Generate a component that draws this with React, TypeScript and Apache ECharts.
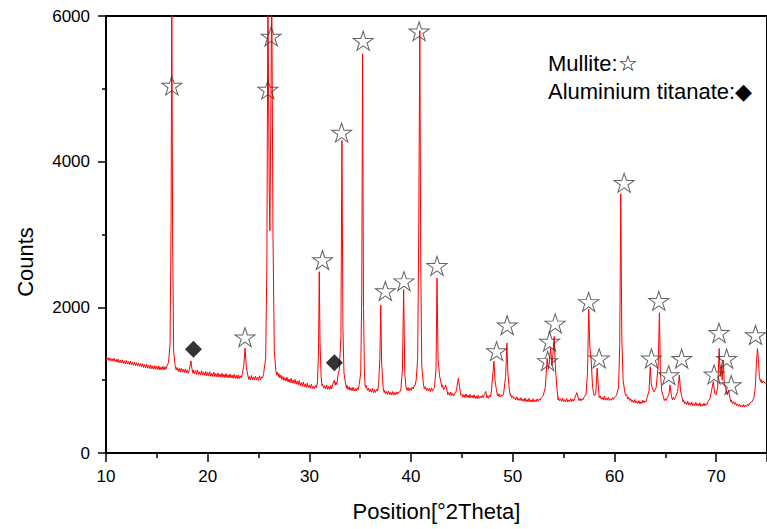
import React, { useEffect, useRef } from "react";
import * as echarts from "echarts";

// X-ray diffraction pattern: [2Theta, counts]
const xrdPattern: [number, number][] = [
  [10.0, 1320], [10.1, 1280], [10.2, 1310], [10.3, 1270], [10.4, 1305], [10.5, 1265], [10.6, 1295], [10.7, 1260],
  [10.8, 1300], [10.9, 1255], [11.0, 1285], [11.1, 1245], [11.2, 1290], [11.3, 1240], [11.4, 1275], [11.5, 1235],
  [11.6, 1280], [11.7, 1230], [11.8, 1265], [11.9, 1225], [12.0, 1270], [12.1, 1220], [12.2, 1255], [12.3, 1215],
  [12.4, 1260], [12.5, 1210], [12.6, 1245], [12.7, 1205], [12.8, 1250], [12.9, 1200], [13.0, 1240], [13.1, 1195],
  [13.2, 1235], [13.3, 1190], [13.4, 1230], [13.5, 1180], [13.6, 1225], [13.7, 1175], [13.8, 1215], [13.9, 1170],
  [14.0, 1220], [14.1, 1165], [14.2, 1205], [14.3, 1160], [14.4, 1210], [14.5, 1155], [14.6, 1195], [14.7, 1150],
  [14.8, 1200], [14.9, 1150], [15.0, 1190], [15.1, 1145], [15.2, 1195], [15.3, 1140], [15.4, 1180], [15.5, 1145],
  [15.6, 1190], [15.7, 1140], [15.8, 1185], [15.9, 1150], [16.0, 1195], [16.15, 1240],
  [16.3, 1500], [16.4, 3200], [16.47, 6400], [16.55, 3000], [16.65, 1400], [16.8, 1200], [16.9, 1140], [17.0, 1175],
  [17.1, 1120], [17.2, 1160], [17.3, 1110], [17.4, 1165], [17.5, 1115], [17.6, 1150], [17.7, 1105], [17.8, 1155],
  [17.9, 1100], [18.0, 1140], [18.1, 1095], [18.2, 1150], [18.35, 1265], [18.45, 1160], [18.55, 1095], [18.6, 1140],
  [18.7, 1090], [18.8, 1130], [18.9, 1080], [19.0, 1140], [19.1, 1075], [19.2, 1115], [19.3, 1070], [19.4, 1130],
  [19.5, 1070], [19.6, 1110], [19.7, 1065], [19.8, 1120], [19.9, 1060], [20.0, 1105], [20.1, 1060], [20.2, 1115],
  [20.3, 1055], [20.4, 1095], [20.5, 1050], [20.6, 1110], [20.7, 1050], [20.8, 1090], [20.9, 1045], [21.0, 1100],
  [21.1, 1045], [21.2, 1085], [21.3, 1040], [21.4, 1095], [21.5, 1040], [21.6, 1080], [21.7, 1035], [21.8, 1090],
  [21.9, 1035], [22.0, 1075], [22.1, 1030], [22.2, 1085], [22.3, 1030], [22.4, 1070], [22.5, 1025], [22.6, 1080],
  [22.7, 1025], [22.8, 1065], [22.9, 1020], [23.0, 1075], [23.1, 1020], [23.2, 1060], [23.3, 1030], [23.4, 1085],
  [23.55, 1200], [23.67, 1440], [23.8, 1180], [23.95, 1060], [24.05, 1010], [24.1, 1050], [24.2, 1005], [24.3, 1065],
  [24.4, 1005], [24.5, 1045], [24.6, 1000], [24.7, 1055], [24.8, 1000], [24.9, 1040], [25.0, 995], [25.1, 1060],
  [25.2, 1005], [25.3, 1045], [25.4, 1030], [25.5, 1090], [25.7, 1300], [25.82, 2600], [25.92, 6400], [26.05, 3600],
  [26.12, 3050], [26.2, 4500], [26.3, 6400], [26.42, 3000], [26.55, 1400], [26.7, 1130], [26.8, 1070], [26.85, 1110],
  [26.95, 1050], [27.0, 1090], [27.1, 1030], [27.2, 1070], [27.3, 1010], [27.4, 1050], [27.5, 995], [27.6, 1035],
  [27.7, 990], [27.8, 1040], [27.9, 975], [28.0, 1015], [28.1, 965], [28.2, 1025], [28.3, 960], [28.4, 1000],
  [28.5, 955], [28.6, 1010], [28.7, 945], [28.8, 985], [28.9, 935], [29.0, 995], [29.1, 925], [29.2, 965],
  [29.3, 915], [29.4, 975], [29.5, 910], [29.6, 950], [29.7, 900], [29.8, 960], [29.9, 895], [30.0, 935],
  [30.1, 890], [30.2, 945], [30.3, 885], [30.4, 920], [30.5, 880], [30.6, 930], [30.7, 900], [30.8, 980],
  [30.9, 1400], [30.97, 2490], [31.05, 1500], [31.15, 1050], [31.25, 920], [31.3, 945], [31.4, 890], [31.5, 925],
  [31.6, 880], [31.7, 935], [31.8, 875], [31.9, 915], [32.0, 870], [32.1, 925], [32.2, 880], [32.3, 945],
  [32.45, 1000], [32.55, 930], [32.6, 975], [32.7, 940], [32.8, 1060], [32.95, 1150], [33.1, 1600], [33.2, 4290],
  [33.3, 1700], [33.4, 1100], [33.55, 960], [33.65, 890], [33.7, 930], [33.8, 870], [33.9, 910], [34.0, 860],
  [34.1, 895], [34.2, 855], [34.3, 905], [34.4, 850], [34.5, 885], [34.6, 850], [34.7, 895], [34.8, 870],
  [34.9, 940], [35.05, 1100], [35.15, 2200], [35.23, 5480], [35.32, 2000], [35.42, 1050], [35.5, 900], [35.6, 925],
  [35.7, 860], [35.8, 890], [35.9, 840], [36.0, 880], [36.1, 835], [36.2, 885], [36.3, 830], [36.4, 870],
  [36.5, 830], [36.6, 875], [36.7, 850], [36.8, 930], [36.93, 1300], [37.02, 2030], [37.1, 1250], [37.25, 900],
  [37.35, 830], [37.4, 860], [37.5, 810], [37.6, 845], [37.7, 805], [37.8, 850], [37.9, 800], [38.0, 835],
  [38.1, 795], [38.2, 845], [38.3, 795], [38.4, 830], [38.5, 800], [38.6, 840], [38.7, 810], [38.8, 835],
  [38.9, 840], [39.0, 880], [39.15, 1150], [39.27, 2245], [39.38, 1100], [39.5, 900], [39.6, 860], [39.7, 900],
  [39.8, 855], [39.9, 890], [40.0, 860], [40.1, 905], [40.2, 880], [40.3, 925], [40.4, 930], [40.5, 1000],
  [40.65, 1300], [40.75, 3000], [40.86, 5800], [40.95, 2600], [41.05, 1200], [41.2, 960], [41.3, 880], [41.4, 910],
  [41.5, 860], [41.6, 890], [41.7, 850], [41.8, 885], [41.9, 845], [42.0, 895], [42.1, 850], [42.2, 880],
  [42.3, 900], [42.45, 1150], [42.55, 2400], [42.65, 1300], [42.8, 1060], [42.95, 960], [43.05, 900], [43.1, 935],
  [43.2, 870], [43.3, 890], [43.4, 935], [43.55, 850], [43.6, 800], [43.7, 830], [43.8, 790], [43.9, 835],
  [44.0, 790], [44.1, 815], [44.2, 785], [44.3, 825], [44.4, 830], [44.5, 900], [44.65, 1030], [44.8, 880],
  [44.9, 790], [45.0, 805], [45.1, 765], [45.2, 800], [45.3, 760], [45.4, 810], [45.5, 765], [45.6, 795],
  [45.7, 755], [45.8, 805], [45.9, 760], [46.0, 790], [46.1, 755], [46.2, 800], [46.3, 750], [46.4, 785],
  [46.5, 745], [46.6, 795], [46.7, 750], [46.8, 780], [46.9, 755], [47.0, 790], [47.1, 760], [47.2, 805],
  [47.35, 845], [47.45, 760], [47.5, 785], [47.6, 750], [47.7, 795], [47.8, 770], [47.9, 850], [48.05, 1100],
  [48.15, 1260], [48.25, 1000], [48.4, 860], [48.5, 790], [48.55, 815], [48.65, 775], [48.7, 805], [48.8, 770],
  [48.9, 795], [49.0, 780], [49.1, 820], [49.3, 1050], [49.42, 1510], [49.52, 1100], [49.65, 880], [49.75, 790],
  [49.8, 805], [49.9, 760], [50.0, 785], [50.1, 745], [50.2, 760], [50.3, 730], [50.4, 770], [50.5, 725],
  [50.6, 750], [50.7, 720], [50.8, 760], [50.9, 715], [51.0, 740], [51.1, 710], [51.2, 755], [51.3, 705],
  [51.4, 735], [51.5, 705], [51.6, 750], [51.7, 700], [51.8, 730], [51.9, 700], [52.0, 745], [52.1, 700],
  [52.2, 730], [52.3, 705], [52.4, 745], [52.5, 710], [52.6, 740], [52.7, 725], [52.8, 760], [53.0, 790],
  [53.2, 900], [53.38, 1300], [53.5, 1150], [53.6, 1250], [53.72, 1450], [53.85, 1200], [53.95, 1350], [54.07, 1600],
  [54.2, 1150], [54.35, 880], [54.45, 730], [54.5, 760], [54.6, 715], [54.7, 745], [54.8, 710], [54.9, 755],
  [55.0, 705], [55.1, 735], [55.2, 705], [55.3, 750], [55.4, 700], [55.5, 730], [55.6, 705], [55.7, 745],
  [55.8, 705], [55.9, 740], [56.0, 715], [56.1, 755], [56.3, 830], [56.45, 750], [56.5, 720], [56.6, 750],
  [56.7, 715], [56.8, 745], [56.9, 730], [57.0, 765], [57.2, 800], [57.35, 1100], [57.47, 1975], [57.58, 1460],
  [57.7, 1300], [57.85, 900], [58.0, 790], [58.15, 800], [58.3, 1165], [58.42, 900], [58.5, 760], [58.6, 785],
  [58.7, 740], [58.8, 765], [58.9, 730], [59.0, 780], [59.1, 725], [59.2, 755], [59.3, 725], [59.4, 765],
  [59.5, 720], [59.6, 745], [59.7, 725], [59.8, 760], [59.9, 735], [60.0, 765], [60.2, 790], [60.4, 900],
  [60.52, 1500], [60.62, 3560], [60.72, 1600], [60.85, 1000], [61.0, 850], [61.1, 790], [61.2, 800], [61.3, 740],
  [61.4, 765], [61.5, 720], [61.6, 745], [61.7, 700], [61.8, 725], [61.9, 690], [62.0, 735], [62.1, 685],
  [62.2, 710], [62.3, 680], [62.4, 720], [62.5, 675], [62.6, 705], [62.7, 680], [62.8, 725], [62.9, 690],
  [63.0, 715], [63.1, 700], [63.2, 760], [63.4, 850], [63.52, 1185], [63.62, 950], [63.75, 880], [63.9, 840],
  [64.1, 900], [64.3, 1200], [64.42, 1925], [64.52, 1100], [64.65, 850], [64.8, 780], [64.9, 720], [65.0, 745],
  [65.1, 720], [65.2, 765], [65.35, 800], [65.47, 935], [65.6, 780], [65.7, 730], [65.8, 765], [65.9, 735],
  [66.0, 765], [66.2, 840], [66.38, 1070], [66.5, 850], [66.65, 760], [66.75, 700], [66.8, 725], [66.9, 675],
  [67.0, 700], [67.1, 665], [67.2, 710], [67.3, 660], [67.4, 690], [67.5, 655], [67.6, 700], [67.7, 650],
  [67.8, 680], [67.9, 650], [68.0, 695], [68.1, 650], [68.2, 680], [68.3, 645], [68.4, 690], [68.5, 640],
  [68.6, 670], [68.7, 645], [68.8, 685], [68.9, 650], [69.0, 675], [69.1, 665], [69.2, 705], [69.4, 750],
  [69.55, 860], [69.72, 980], [69.85, 820], [70.0, 800], [70.15, 900], [70.3, 1435], [70.4, 1050], [70.5, 1200],
  [70.6, 1000], [70.7, 1275], [70.8, 950], [70.95, 880], [71.1, 800], [71.22, 865], [71.35, 760], [71.45, 700],
  [71.5, 725], [71.6, 680], [71.7, 705], [71.8, 665], [71.9, 695], [72.0, 650], [72.1, 675], [72.2, 640],
  [72.3, 670], [72.4, 635], [72.5, 660], [72.6, 630], [72.7, 665], [72.8, 630], [72.9, 655], [73.0, 640],
  [73.1, 670], [73.2, 650], [73.3, 685], [73.5, 700], [73.7, 750], [73.85, 900], [73.95, 1200], [74.06, 1435],
  [74.15, 1300], [74.25, 1050], [74.35, 980], [74.4, 1010], [74.5, 960], [74.6, 990], [74.8, 960], [75.0, 950],
];

// Mullite markers (stars)
const mulliteX = [16.47, 25.92, 26.24, 23.67, 31.29, 33.17, 35.29, 37.47, 39.3, 40.79, 42.55, 48.41, 49.45, 53.43,
  53.62, 54.17, 57.46, 58.5, 60.95, 63.64, 64.36, 65.34, 66.61, 69.8, 70.28, 71.03, 71.48, 73.87];
const mulliteY = [5045, 4990, 5720, 1590, 2650, 4400, 5660, 2225, 2360, 5790, 2570, 1400, 1755, 1265,
  1530, 1780, 2075, 1300, 3710, 1300, 2090, 1070, 1295, 1080, 1650, 1295, 935, 1620];

// Aluminium titanate markers (diamonds)
const titanateX = [18.6, 32.46];
const titanateY = [1425, 1240];

const xTicks = { min: 10, max: 75, interval: 10 };
const yTicks = { min: 0, max: 6000, interval: 2000 };

const STAR =
  "path://M50 0 L61.23 34.55 L97.55 34.55 L68.17 55.9 L79.39 90.45 L50 69.1 L20.61 90.45 L31.83 55.9 L2.45 34.55 L38.77 34.55 Z";

const FONT = "'Liberation Sans', Arial, sans-serif";

export default function App() {
  const ref = useRef<HTMLDivElement>(null);
  useEffect(() => {
    if (!ref.current) return;
    const chart = echarts.init(ref.current, undefined, { renderer: "svg" });
    chart.setOption({
      animation: false,
      backgroundColor: "#fff",
      textStyle: { fontFamily: FONT },
      grid: { left: 106, right: -5, top: 16, bottom: 76, show: true, borderColor: "#000", borderWidth: 2 },
      xAxis: {
        type: "value",
        min: xTicks.min,
        max: xTicks.max,
        interval: xTicks.interval,
        name: "Position[°2Theta]",
        nameLocation: "middle",
        nameGap: 47,
        nameTextStyle: { fontSize: 22, color: "#000", fontFamily: FONT },
        axisLine: { onZero: false, lineStyle: { color: "#000", width: 2 } },
        axisTick: { inside: false, length: 9, lineStyle: { color: "#000", width: 1.5 } },
        minorTick: { show: true, splitNumber: 2, length: 5, lineStyle: { color: "#000", width: 1.5 } },
        axisLabel: { fontSize: 17, color: "#000", margin: 15, showMaxLabel: false, fontFamily: FONT },
        splitLine: { show: false },
        minorSplitLine: { show: false },
      },
      yAxis: {
        type: "value",
        min: yTicks.min,
        max: yTicks.max,
        interval: yTicks.interval,
        axisLine: { onZero: false, lineStyle: { color: "#000", width: 2 } },
        axisTick: { inside: false, length: 8, lineStyle: { color: "#000", width: 1.5 } },
        minorTick: { show: true, splitNumber: 2, length: 4, lineStyle: { color: "#000", width: 1.5 } },
        axisLabel: {
          fontSize: 17,
          color: "#000",
          margin: 16,
          fontFamily: FONT,
          formatter: (v: number) => String(v),
        },
        splitLine: { show: false },
      },
      series: [
        {
          type: "line",
          data: xrdPattern,
          symbol: "none",
          clip: true,
          lineStyle: { color: "#ff0000", width: 1 },
          z: 2,
        },
        {
          type: "scatter",
          data: mulliteX.map((x, i) => [x, mulliteY[i]]),
          symbol: STAR,
          symbolSize: [20, 19],
          itemStyle: { color: "rgba(255,255,255,0)", borderColor: "#3a3a3a", borderWidth: 1 },
          z: 3,
        },
        {
          type: "scatter",
          data: titanateX.map((x, i) => [x, titanateY[i]]),
          symbol: "diamond",
          symbolSize: [17, 17],
          itemStyle: { color: "#000" },
          z: 3,
        },
      ],
      graphic: [
        {
          type: "text",
          x: 25,
          y: 262,
          rotation: Math.PI / 2,
          style: {
            text: "Counts",
            font: `22px ${FONT}`,
            fill: "#000",
            align: "center",
            verticalAlign: "middle",
          },
        },
        {
          type: "text",
          left: 548,
          top: 52,
          style: { text: "Mullite:☆", font: `22px ${FONT}`, fill: "#000" },
        },
        {
          type: "text",
          left: 548,
          top: 80,
          style: { text: "Aluminium titanate:◆", font: `22px ${FONT}`, fill: "#000" },
        },
      ],
    });
    return () => chart.dispose();
  }, []);
  return <div ref={ref} style={{ position: "fixed", left: 0, top: 0, width: 767, height: 529 }} />;
}
